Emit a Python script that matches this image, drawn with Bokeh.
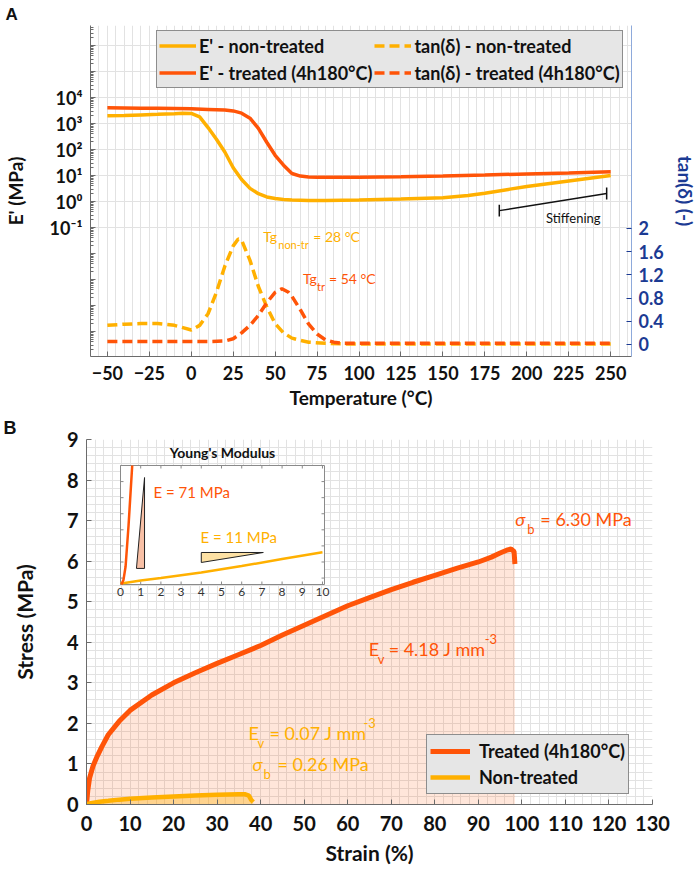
from bokeh.plotting import figure
from bokeh.models import (Range1d, LinearAxis, FixedTicker, LinearScale, Legend,
                          LegendItem, CustomJSTickFormatter)
from bokeh.layouts import column, row
from bokeh.embed import file_html
from bokeh.resources import INLINE
from bokeh.core.properties import value

RED = "#FF5408"
YEL = "#FFB000"
BLUE = "#1B3A93"
FONT = "Lato"

# ---------------- Panel A data (DMA) ----------------
temp_E_tr = [-50, -40, -30, -20, -10, 0, 10, 20, 25, 30, 35, 40, 45, 50, 55, 60, 65, 70,
             75, 80, 90, 100, 125, 150, 175, 200, 225, 250]
E_tr = [4000, 3950, 3900, 3850, 3800, 3700, 3500, 3300, 3050, 2500, 1600, 650, 190, 60, 25,
        12, 9.5, 8.8, 8.6, 8.5, 8.5, 8.6, 9.0, 9.6, 10.5, 11.5, 12.5, 14.0]

temp_E_non = [-50, -40, -30, -20, -10, -5, 0, 5, 10, 15, 20, 25, 30, 35, 40, 45, 50, 55, 60,
              70, 80, 100, 125, 150, 165, 175, 190, 200, 225, 250]
E_non = [2000, 2050, 2150, 2250, 2400, 2500, 2450, 1800, 700, 250, 80, 20, 7, 3.2, 2.0, 1.5,
         1.3, 1.2, 1.15, 1.1, 1.1, 1.15, 1.25, 1.4, 1.7, 2.1, 3.0, 3.8, 6.2, 10]

temp_tan_non = [-50, -40, -30, -20, -10, -5, 0, 5, 10, 15, 20, 25, 28, 30, 35, 40, 45, 50,
                55, 60, 65, 70, 80, 90, 100, 150, 200, 250]
tan_non = [0.33, 0.35, 0.36, 0.36, 0.33, 0.29, 0.25, 0.33, 0.53, 0.9, 1.35, 1.7, 1.82, 1.8,
           1.45, 1.0, 0.65, 0.36, 0.2, 0.11, 0.07, 0.04, 0.02, 0.01, 0.01, 0.01, 0.01, 0.01]

temp_tan_tr = [-50, -25, 0, 10, 20, 25, 30, 35, 40, 45, 50, 54, 58, 60, 65, 70, 75, 80, 85,
               90, 100, 150, 200, 250]
tan_tr = [0.05, 0.05, 0.05, 0.05, 0.06, 0.1, 0.2, 0.33, 0.5, 0.72, 0.9, 0.96, 0.9, 0.83, 0.6,
          0.35, 0.18, 0.08, 0.04, 0.02, 0.02, 0.02, 0.02, 0.02]

temp_ticks = [-50, -25, 0, 25, 50, 75, 100, 125, 150, 175, 200, 225, 250]
E_ticks = [0.1, 1, 10, 100, 1000, 10000]
E_tick_labels = ["10⁻¹", "10⁰", "10¹", "10²", "10³", "10⁴"]
tan_ticks = [0, 0.4, 0.8, 1.2, 1.6, 2]
tan_tick_labels = ["0", "0.4", "0.8", "1.2", "1.6", "2"]

legend_A = ["E' - non-treated", "E' - treated (4h180°C)",
            "tan(δ) - non-treated", "tan(δ) - treated (4h180°C)"]

# ---------------- Panel B data (tensile) ----------------
strain_tr = [0, 0.3, 0.7, 1.5, 2.5, 3.5, 5, 7.5, 10, 15, 20, 25, 30, 35, 40, 45, 50, 55, 60,
             65, 70, 75, 80, 85, 90, 93, 95, 96.5, 97.5, 98.2, 98.4]
stress_tr = [0, 0.35, 0.65, 0.95, 1.2, 1.42, 1.72, 2.05, 2.32, 2.7, 3.0, 3.25, 3.48, 3.7,
             3.92, 4.18, 4.42, 4.66, 4.9, 5.1, 5.3, 5.48, 5.65, 5.82, 5.98, 6.1, 6.2, 6.27,
             6.3, 6.24, 5.93]
strain_non = [0, 0.5, 1, 2, 3, 5, 7.5, 10, 15, 20, 25, 30, 35, 36.5, 37.3, 37.8, 38.3]
stress_non = [0, 0.02, 0.03, 0.05, 0.07, 0.09, 0.12, 0.14, 0.17, 0.2, 0.22, 0.24, 0.25, 0.25,
              0.22, 0.12, 0.06]

strain_ticks = [0, 10, 20, 30, 40, 50, 60, 70, 80, 90, 100, 110, 120, 130]
stress_ticks = [0, 1, 2, 3, 4, 5, 6, 7, 8, 9]

# inset (Young's modulus, initial part)
inset_strain_tr = [0.05, 0.15, 0.25, 0.4, 0.58]
inset_stress_tr = [-0.04, -0.01, 0.07, 0.33, 0.70]
inset_strain_non = [0, 0.2, 1, 2, 4, 6, 8, 10]
inset_stress_non = [-0.03, -0.03, -0.015, 0.0, 0.035, 0.075, 0.118, 0.16]
inset_x_ticks = [0, 1, 2, 3, 4, 5, 6, 7, 8, 9, 10]
inset_y_ticks = [0, 0.1, 0.2, 0.3, 0.4, 0.5, 0.6]
tri_tr_x = [0.79, 1.19, 1.19]
tri_tr_y = [0.06, 0.06, 0.625]
tri_non_x = [4.0, 4.0, 7.07]
tri_non_y = [0.097, 0.159, 0.159]

legend_B = ["Treated (4h180°C)", "Non-treated"]


def style_axis(ax, size, title_size, color="#111111", line_color="#6b6b6b"):
    ax.major_label_text_font = FONT
    ax.major_label_text_font_style = "bold"
    ax.major_label_text_font_size = size
    ax.major_label_text_color = color
    ax.major_label_text_line_height = 1.0
    ax.axis_label_text_font = FONT
    ax.axis_label_text_font_style = "bold"
    ax.axis_label_text_font_size = title_size
    ax.axis_label_text_color = color
    ax.axis_label_text_line_height = 1.0
    ax.axis_line_color = line_color
    ax.major_tick_line_color = line_color
    ax.minor_tick_line_color = line_color
    ax.major_tick_in = 5
    ax.major_tick_out = 0
    ax.minor_tick_in = 3
    ax.minor_tick_out = 0


def label_formatter(tks, lbls, log=False):
    code = """
    for (let i = 0; i < tk.length; i++) {
        const a = uselog ? Math.log10(tk[i]) : tk[i];
        const b = uselog ? Math.log10(tick) : tick;
        if (Math.abs(a - b) < 1e-6) return lb[i];
    }
    return "";
    """
    return CustomJSTickFormatter(args=dict(tk=tks, lb=lbls, uselog=log), code=code)


def panel_title(p, letter, shift, size):
    p.title.text = letter
    p.title.align = "left"
    p.title.offset = shift
    p.title.standoff = 0
    p.title.vertical_align = "top"
    p.title.text_font = "Liberation Sans"
    p.title.text_font_style = "bold"
    p.title.text_font_size = size
    p.title.text_line_height = 1.0
    p.title.text_color = "#111111"


# ================= Panel A =================
pA = figure(width=699, height=413, x_range=Range1d(-60.06, 262.4),
            y_range=Range1d(10 ** -5.96, 10 ** 6.77), y_axis_type="log",
            output_backend="svg", toolbar_location=None,
            min_border_left=88, min_border_right=66, min_border_top=25, min_border_bottom=57)
pA.extra_y_ranges = {"tan": Range1d(-0.207, 5.5)}
pA.extra_y_scales = {"tan": LinearScale()}
pA.outline_line_color = None
panel_title(pA, "A", -85, "17px")

xa = pA.xaxis[0]
style_axis(xa, "18px", "19px")
xa.ticker = FixedTicker(ticks=temp_ticks)
xa.minor_tick_line_color = None
xa.axis_label = "Temperature (°C)"
xa.major_label_standoff = 9
xa.axis_label_standoff = 3

ya = pA.yaxis[0]
style_axis(ya, "18px", "19px")
ya.ticker = FixedTicker(ticks=[10.0 ** k for k in range(-6, 7)],
                        minor_ticks=[m * 10.0 ** k for k in range(-6, 7) for m in range(2, 10)])
ya.formatter = label_formatter(E_ticks, E_tick_labels, log=True)
ya.axis_label = "E' (MPa)"
ya.major_label_standoff = 8
ya.axis_label_standoff = 20

ra = LinearAxis(y_range_name="tan", ticker=FixedTicker(ticks=tan_ticks),
                formatter=label_formatter(tan_ticks, tan_tick_labels))
style_axis(ra, "18px", "19px", color=BLUE, line_color="#8EAADB")
ra.major_tick_line_color = BLUE
ra.minor_tick_line_color = None
ra.axis_label = "tan(δ) (-)"
ra.major_label_standoff = 7
ra.axis_label_standoff = 7
pA.add_layout(ra, "right")

pA.xgrid.ticker = FixedTicker(ticks=list(range(-60, 265, 5)))
pA.ygrid.ticker = FixedTicker(ticks=[10.0 ** k for k in range(-1, 7)])
pA.xgrid.grid_line_color = "#e2e2e2"
pA.ygrid.grid_line_color = "#e2e2e2"

r1 = pA.line(temp_E_non, E_non, color=YEL, line_width=3.5)
r2 = pA.line(temp_E_tr, E_tr, color=RED, line_width=3.5)
r3 = pA.line(temp_tan_non, tan_non, color=YEL, line_width=3.5, line_dash="10 5",
             y_range_name="tan")
r4 = pA.line(temp_tan_tr, tan_tr, color=RED, line_width=3.5, line_dash="10 5",
             y_range_name="tan")

legA = Legend(items=[LegendItem(label=legend_A[0], renderers=[r1]),
                     LegendItem(label=legend_A[1], renderers=[r2]),
                     LegendItem(label=legend_A[2], renderers=[r3]),
                     LegendItem(label=legend_A[3], renderers=[r4])],
              location=(66, 268), ncols=2, margin=0, padding=2, spacing=2,
              glyph_width=37, glyph_height=25, label_height=25, label_standoff=3,
              background_fill_color="#e6e6e6", background_fill_alpha=1.0,
              border_line_color="#333333", border_line_width=1,
              label_text_font=FONT, label_text_font_style="bold",
              label_text_font_size="18px", label_text_line_height=1.0,
              label_text_color="#111111")
pA.add_layout(legA)

# Tg annotations
TG_NON = (42.9, 1.86)
TG_TR = (66.6, 1.14)
for (tx, ty), col, sub, rest, sub_dx, rest_dx in [
        (TG_NON, YEL, "non-tr", "= 28 °C", 15, 50),
        (TG_TR, RED, "tr", "= 54 °C", 14, 26)]:
    pA.text(x=[tx], y=[ty], text=["Tg"], y_range_name="tan", text_font=value(FONT),
            text_font_size="14px", text_color=col, text_baseline="middle", text_align="left")
    pA.text(x=[tx], y=[ty], text=[sub], y_range_name="tan", text_font=value(FONT),
            text_font_size="11px", text_color=col, text_baseline="middle", text_align="left",
            x_offset=sub_dx, y_offset=8)
    pA.text(x=[tx], y=[ty], text=[rest], y_range_name="tan", text_font=value(FONT),
            text_font_size="14px", text_color=col, text_baseline="middle", text_align="left",
            x_offset=rest_dx)

# Stiffening bracket
ST_X = [183.6, 247.6]
ST_LOG = [-0.35, 0.31]
CAP = 0.23
pA.segment(x0=[ST_X[0], ST_X[0], ST_X[1]],
           y0=[10 ** ST_LOG[0], 10 ** (ST_LOG[0] - CAP), 10 ** (ST_LOG[1] - CAP)],
           x1=[ST_X[1], ST_X[0], ST_X[1]],
           y1=[10 ** ST_LOG[1], 10 ** (ST_LOG[0] + CAP), 10 ** (ST_LOG[1] + CAP)],
           line_color="#111111", line_width=1.5)
pA.text(x=[211.5], y=[10 ** -0.62], text=["Stiffening"], text_font=value(FONT),
        text_font_size="13px", text_color="#111111", text_baseline="middle", text_align="left")

# ================= Panel B =================
pB = figure(width=699, height=459, x_range=Range1d(0, 130), y_range=Range1d(0, 9),
            output_backend="svg", toolbar_location=None,
            min_border_left=86, min_border_right=47, min_border_top=26, min_border_bottom=68)
pB.outline_line_color = None
panel_title(pB, "B", -83, "18px")

xb = pB.xaxis[0]
style_axis(xb, "20px", "21px")
xb.ticker = FixedTicker(ticks=strain_ticks)
xb.minor_tick_line_color = None
xb.axis_label = "Strain (%)"
xb.major_label_standoff = 11
xb.axis_label_standoff = 6

yb = pB.yaxis[0]
style_axis(yb, "20px", "21px")
yb.ticker = FixedTicker(ticks=stress_ticks)
yb.minor_tick_line_color = None
yb.axis_label = "Stress (MPa)"
yb.major_label_standoff = 8
yb.axis_label_standoff = 27

pB.xgrid.ticker = FixedTicker(ticks=list(range(0, 131, 2)))
pB.ygrid.ticker = FixedTicker(ticks=[round(0.2 * i, 1) for i in range(46)])
pB.xgrid.grid_line_color = "#e2e2e2"
pB.ygrid.grid_line_color = "#e2e2e2"

pB.varea(x=strain_tr, y1=[0] * len(strain_tr), y2=stress_tr, fill_color=RED, fill_alpha=0.15)
pB.varea(x=strain_non, y1=[0] * len(strain_non), y2=stress_non, fill_color=YEL, fill_alpha=0.35)
b1 = pB.line(strain_tr, stress_tr, color=RED, line_width=5)
b2 = pB.line(strain_non, stress_non, color=YEL, line_width=4.5)

legB = Legend(items=[LegendItem(label=legend_B[0], renderers=[b1]),
                     LegendItem(label=legend_B[1], renderers=[b2])],
              location=(340, 10), margin=0, padding=3, spacing=0,
              glyph_width=40, glyph_height=26, label_height=26, label_standoff=9,
              background_fill_color="#e6e6e6", background_fill_alpha=1.0,
              border_line_color="#333333", border_line_width=1,
              label_text_font=FONT, label_text_font_style="bold",
              label_text_font_size="18px", label_text_line_height=1.0,
              label_text_color="#111111")
pB.add_layout(legB)


def sub_label(p, x, y, main, sub, rest, col, sub_dx, rest_dx, italic=False, sup=None, sup_dx=0):
    style = "italic" if italic else "normal"
    p.text(x=[x], y=[y], text=[main], text_font=value(FONT), text_font_size="18px",
           text_font_style=style, text_color=col, text_baseline="middle", text_align="left")
    p.text(x=[x], y=[y], text=[sub], text_font=value(FONT), text_font_size="13px",
           text_color=col, text_baseline="middle", text_align="left",
           x_offset=sub_dx, y_offset=10)
    p.text(x=[x], y=[y], text=[rest], text_font=value(FONT), text_font_size="18px",
           text_color=col, text_baseline="middle", text_align="left", x_offset=rest_dx)
    if sup:
        p.text(x=[x], y=[y], text=[sup], text_font=value(FONT), text_font_size="13px",
               text_color=col, text_baseline="middle", text_align="left",
               x_offset=sup_dx, y_offset=-10)


sub_label(pB, 98.5, 7.04, "σ", "b", "= 6.30 MPa", RED, 12, 25, italic=True)
sub_label(pB, 64.8, 3.84, "E", "v", "= 4.18 J mm", RED, 9, 20, sup="-3", sup_dx=116)
sub_label(pB, 37.2, 1.77, "E", "v", "= 0.07 J mm", YEL, 9, 21, sup="-3", sup_dx=115)
sub_label(pB, 38.1, 1.01, "σ", "b", "= 0.26 MPa", YEL, 11, 25, italic=True)

# ---- inset drawn through its own ranges ----
FRAME_W, FRAME_H = 566, 365
IN_LEFT, IN_W, IN_BOTTOM, IN_H = 34, 204, 220, 119
IN_X = (0.0, 10.1)
IN_Y = (-0.04, 0.70)
sx = IN_W / (IN_X[1] - IN_X[0])
sy = IN_H / (IN_Y[1] - IN_Y[0])
x0r = IN_X[0] - IN_LEFT / sx
y0r = IN_Y[0] - IN_BOTTOM / sy
pB.extra_x_ranges = {"ix": Range1d(x0r, x0r + FRAME_W / sx)}
pB.extra_y_ranges = {"iy": Range1d(y0r, y0r + FRAME_H / sy)}
IK = dict(x_range_name="ix", y_range_name="iy")

pB.quad(left=[IN_X[0]], right=[IN_X[1]], bottom=[IN_Y[0]], top=[IN_Y[1]],
        fill_color="white", line_color="#8a8a8a", line_width=1, **IK)
tl_y = 3 / sy
tl_x = 3 / sx
pB.segment(x0=inset_x_ticks + inset_x_ticks, x1=inset_x_ticks + inset_x_ticks,
           y0=[IN_Y[0]] * len(inset_x_ticks) + [IN_Y[1] - tl_y] * len(inset_x_ticks),
           y1=[IN_Y[0] + tl_y] * len(inset_x_ticks) + [IN_Y[1]] * len(inset_x_ticks),
           line_color="#8a8a8a", line_width=1, **IK)
pB.segment(x0=[IN_X[0]] * len(inset_y_ticks) + [IN_X[1] - tl_x] * len(inset_y_ticks),
           x1=[IN_X[0] + tl_x] * len(inset_y_ticks) + [IN_X[1]] * len(inset_y_ticks),
           y0=inset_y_ticks + inset_y_ticks, y1=inset_y_ticks + inset_y_ticks,
           line_color="#8a8a8a", line_width=1, **IK)
pB.text(x=inset_x_ticks, y=[IN_Y[0]] * len(inset_x_ticks),
        text=[str(t) for t in inset_x_ticks], text_font=value(FONT), text_font_size="12px",
        text_color="#333333", text_align="center", text_baseline="top", y_offset=3, **IK)
pB.text(x=[(IN_X[0] + IN_X[1]) / 2], y=[IN_Y[1]], text=["Young's Modulus"],
        text_font=value(FONT), text_font_size="14px", text_font_style="bold",
        text_color="#111111", text_align="center", text_baseline="middle", y_offset=-13, **IK)

pB.patch(tri_tr_x, tri_tr_y, fill_color="#F8C0A6", line_color="#222222", line_width=1, **IK)
pB.patch(tri_non_x, tri_non_y, fill_color="#FDE1A4", line_color="#222222", line_width=1, **IK)
pB.line(inset_strain_non, inset_stress_non, color=YEL, line_width=2.5, **IK)
pB.line(inset_strain_tr, inset_stress_tr, color=RED, line_width=2.5, **IK)
pB.text(x=[1.63], y=[0.538], text=["E = 71 MPa"], text_font=value(FONT),
        text_font_size="15px", text_color=RED, text_baseline="middle", text_align="left", **IK)
pB.text(x=[3.96], y=[0.258], text=["E = 11 MPa"], text_font=value(FONT),
        text_font_size="15px", text_color=YEL, text_baseline="middle", text_align="left", **IK)

layout = column(pA, row(pB), spacing=0)
open("out.html", "w").write(file_html(layout, INLINE))
